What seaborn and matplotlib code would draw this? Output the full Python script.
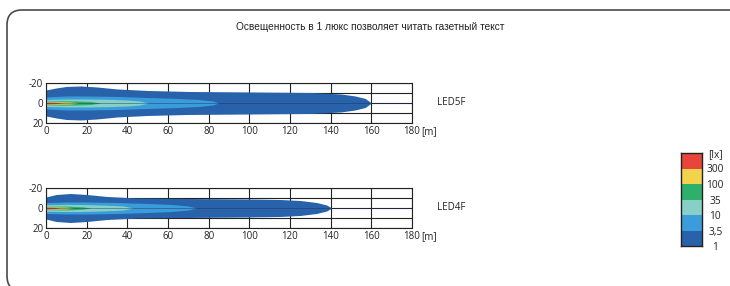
import numpy as np
import matplotlib
matplotlib.use("Agg")
import matplotlib.pyplot as plt
from matplotlib.colors import ListedColormap
from matplotlib.patches import FancyBboxPatch
from matplotlib.transforms import IdentityTransform
import seaborn as sns

sns.set_theme(style="white")
plt.rcParams['font.family'] = ['Open Sans', 'DejaVu Sans']

title = "Освещенность в 1 люкс позволяет читать газетный текст"
lamps = ["LED5F", "LED4F"]
lux_labels = ["1", "3,5", "10", "35", "100", "300", "[lx]"]
lux_colors = ["#2762ab", "#3a9cdb", "#86d0c6", "#2fb06a", "#f3d24c", "#e8463d"]

# beam outlines: distance [m] and half width [m] per lux level (1, 3.5, 10, 35, 100, 300)
led5f_x = [
    [0, 5, 10, 17, 25, 35, 50, 70, 100, 130, 145, 152, 157, 160],
    [0, 10, 20, 35, 50, 65, 75, 82, 85],
    [0, 10, 20, 30, 40, 46, 50.5],
    [0, 8, 15, 22, 27],
    [0, 6, 12, 16],
    [0, 4, 8.7],
]
led5f_hw = [
    [13, 15, 16.5, 17, 16, 14, 12.5, 11.5, 11, 10.5, 9, 7, 4.5, 0],
    [6, 7, 7, 6.5, 5.5, 4.5, 3.5, 2, 0],
    [3.5, 4, 4, 3.7, 3, 2, 0],
    [1.8, 2.2, 2, 1.5, 0],
    [1.1, 1.2, 1, 0],
    [0.8, 0.7, 0],
]
led4f_x = [
    [0, 5, 12, 20, 30, 45, 70, 100, 115, 125, 133, 138, 140.5],
    [0, 10, 20, 35, 50, 62, 70, 74],
    [0, 10, 20, 30, 38, 43],
    [0, 7, 13, 18, 22],
    [0, 5, 10, 13.4],
    [0, 3.5, 7],
]
led4f_hw = [
    [11, 13.5, 14.5, 13.5, 11.5, 10, 9.5, 9, 8.5, 7.5, 5.5, 3, 0],
    [5.5, 6, 6, 5.5, 4.5, 3.5, 2, 0],
    [3.3, 3.6, 3.4, 2.8, 2, 0],
    [1.6, 1.9, 1.7, 1.2, 0],
    [1.1, 1.1, 0.9, 0],
    [0.8, 0.7, 0],
]
x_ticks = [0, 20, 40, 60, 80, 100, 120, 140, 160, 180]
y_ticks = [-20, -10, 0, 10, 20]
y_tick_labels = ["-20", "", "0", "", "20"]

fig = plt.figure(figsize=(7.3, 2.86), dpi=100)

# rounded frame, right and bottom edges run off the picture
frame = FancyBboxPatch((7, -5), 760, 281, boxstyle="round,pad=0,rounding_size=15",
                       transform=IdentityTransform(), fill=False, ec="#4a4a4a", lw=1.2)
fig.patches.append(frame)

fig.text(0.507, 0.905, title, ha="center", va="center", fontsize=7.3,
         family=['Liberation Sans', 'DejaVu Sans'], color="#222222")

axes_pos = [[0.063, 0.570, 0.5014, 0.1399], [0.063, 0.2028, 0.5014, 0.1399]]
data = [(led5f_x, led5f_hw), (led4f_x, led4f_hw)]

for pos, name, (xs, hws) in zip(axes_pos, lamps, data):
    ax = fig.add_axes(pos)
    for x, hw, c in zip(xs, hws, lux_colors):
        x = np.array(x)
        hw = np.array(hw)
        ax.fill_between(x, -hw, hw, color=c, lw=0, zorder=2)
    ax.axhline(0, color="#1a2f5a", lw=0.6, alpha=0.5, zorder=3)
    ax.set_xlim(0, 180)
    ax.set_ylim(20, -20)
    ax.set_xticks(x_ticks)
    ax.set_xticklabels([str(t) for t in x_ticks])
    ax.set_yticks(y_ticks)
    ax.set_yticklabels(y_tick_labels)
    ax.grid(True, color="#222222", lw=0.8, zorder=0)
    ax.set_axisbelow(True)
    ax.tick_params(length=0, labelsize=7, pad=2, colors="#222222")
    for s in ax.spines.values():
        s.set_color("#222222")
        s.set_linewidth(0.8)
    ax.annotate("[m]", xy=(180, 0), xycoords=("data", "axes fraction"),
                xytext=(6.3, -2), textcoords="offset points",
                ha="left", va="top", fontsize=7, color="#222222")
    fig.text(437 / 730, pos[1] + pos[3] / 2, name, ha="left", va="center",
             fontsize=7, color="#222222")

# legend bar
cax = fig.add_axes([681 / 730, 1 - 246 / 286, 21 / 730, 93 / 286])
vals = np.arange(len(lux_colors))[::-1].reshape(-1, 1)
sns.heatmap(vals, ax=cax, cmap=ListedColormap(lux_colors), cbar=False,
            xticklabels=False, yticklabels=False, vmin=-0.5, vmax=5.5)
cax.set_yticks(np.arange(len(lux_labels)))
cax.set_yticklabels(lux_labels[::-1])
cax.yaxis.tick_right()
cax.tick_params(axis="y", length=0, labelsize=7.3, pad=9.5, colors="#222222")
for lbl in cax.get_yticklabels():
    lbl.set_horizontalalignment("center")
for s in cax.spines.values():
    s.set_visible(True)
    s.set_color("#222222")
    s.set_linewidth(1)

fig.savefig("out.png", dpi=100)
